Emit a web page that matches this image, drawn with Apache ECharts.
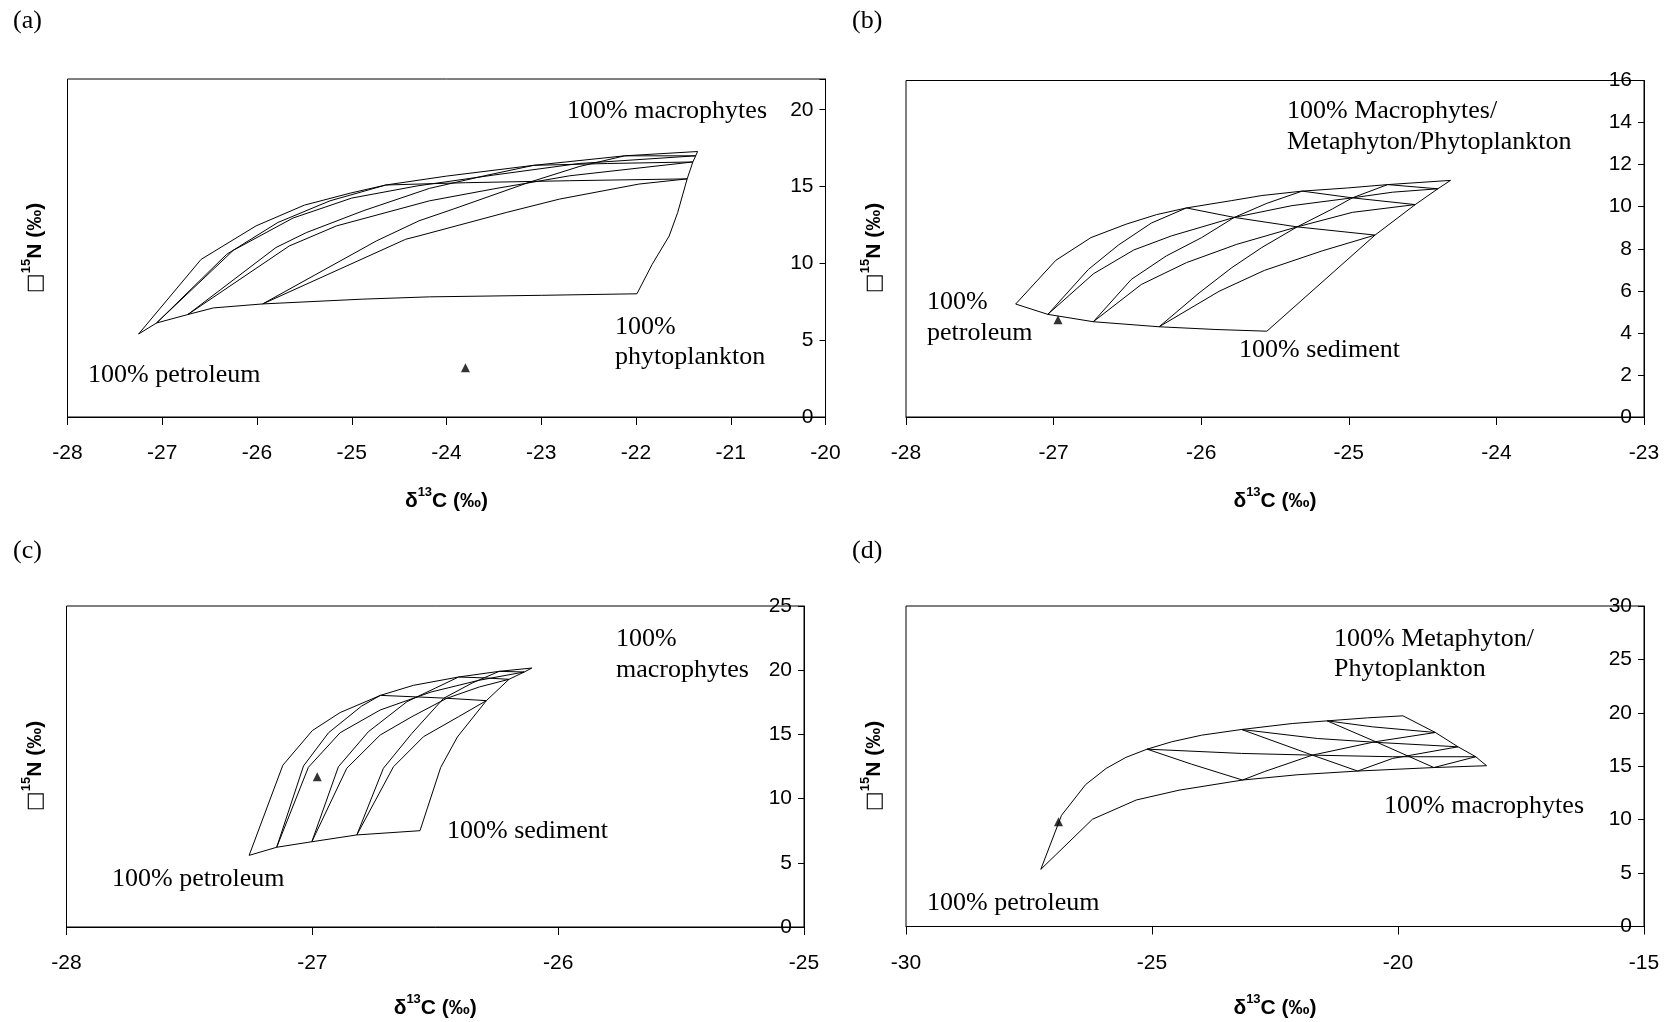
<!DOCTYPE html>
<html><head><meta charset="utf-8">
<script src="https://cdn.jsdelivr.net/npm/echarts@6/dist/echarts.min.js"></script>
<style>html,body{margin:0;padding:0;background:#fff}#c{width:1677px;height:1022px}</style>
</head><body><div id="c"></div>
<script>
// ---------- Panel (a) ----------
const aTop = [[-27.25,5.40],[-26.59,10.26],[-26.01,12.44],[-25.50,13.79],[-25.01,14.58],[-24.64,15.10],[-24.00,15.68],[-23.08,16.38],[-22.12,17.00],[-21.35,17.28]];
const aBottom = [[-27.25,5.40],[-27.06,6.12],[-26.73,6.67],[-26.46,7.10],[-25.94,7.36],[-24.89,7.67],[-24.18,7.82],[-23.00,7.92],[-21.99,8.02]];
const aRight = [[-21.99,8.02],[-21.83,9.93],[-21.65,11.78],[-21.56,13.31],[-21.46,15.50],[-21.40,16.60],[-21.37,17.00],[-21.35,17.28]];
const aMix1 = [[-27.06,6.12],[-26.32,10.59],[-25.78,12.66],[-25.23,14.07],[-24.64,15.10]];
const aMix2 = [[-27.06,6.12],[-26.25,10.85],[-25.62,12.95],[-25.00,14.25],[-24.30,15.05],[-23.50,15.75],[-22.60,16.50],[-21.37,17.00]];
const aMix3 = [[-26.73,6.67],[-25.80,11.03],[-25.48,12.00],[-24.88,13.42],[-24.18,14.88],[-23.60,15.70],[-23.08,16.38]];
const aMix4 = [[-26.73,6.67],[-25.66,11.13],[-25.16,12.44],[-24.18,14.07],[-23.50,14.85],[-22.70,15.70],[-21.40,16.60]];
const aMix5 = [[-25.94,7.36],[-24.74,11.46],[-24.29,12.77],[-23.93,13.53],[-23.13,15.27],[-22.60,16.30],[-22.12,17.00]];
const aMix6 = [[-25.94,7.36],[-24.43,11.57],[-24.29,11.79],[-23.37,13.31],[-22.81,14.18],[-21.97,15.16],[-21.46,15.50]];
const aMix7 = [[-24.64,15.10],[-23.80,15.25],[-22.70,15.38],[-21.46,15.50]];
const aMix8 = [[-23.08,16.38],[-22.30,16.50],[-21.40,16.60]];
const aMix9 = [[-22.12,17.00],[-21.37,17.00]];
const aSample = [[-23.8,3.2]];

// ---------- Panel (b) ----------
const bTop = [[-27.257,5.37],[-26.985,7.45],[-26.747,8.53],[-26.508,9.17],[-26.304,9.62],[-26.10,9.94],[-25.793,10.29],[-25.589,10.53],[-25.316,10.74],[-25.01,10.89],[-24.737,11.05],[-24.311,11.25]];
const bBottom = [[-27.257,5.37],[-27.039,4.88],[-26.731,4.53],[-26.285,4.29],[-25.90,4.16],[-25.555,4.08]];
const bRight = [[-25.555,4.08],[-24.822,8.65],[-24.55,10.10],[-24.397,10.85],[-24.311,11.25]];
const bMix1 = [[-27.039,4.88],[-26.764,7.02],[-26.56,8.18],[-26.338,9.22],[-26.10,9.94]];
const bMix2 = [[-27.039,4.88],[-26.73,6.81],[-26.457,7.94],[-26.202,8.61],[-25.776,9.49],[-25.385,10.05],[-24.976,10.42],[-24.703,10.69],[-24.397,10.85]];
const bMix3 = [[-26.731,4.53],[-26.474,6.54],[-26.236,7.66],[-25.997,8.53],[-25.776,9.49],[-25.555,10.16],[-25.316,10.74]];
const bMix4 = [[-26.731,4.53],[-26.406,6.30],[-26.10,7.34],[-25.759,8.21],[-25.35,9.04],[-24.976,9.73],[-24.55,10.10]];
const bMix5 = [[-26.285,4.29],[-26.014,5.90],[-25.793,7.10],[-25.589,8.06],[-25.35,9.04],[-25.112,9.89],[-24.976,10.42],[-24.737,11.05]];
const bMix6 = [[-26.285,4.29],[-25.878,5.98],[-25.572,6.97],[-25.18,7.90],[-24.822,8.65]];
const bMix7 = [[-26.10,9.94],[-25.776,9.49],[-25.35,9.04],[-24.822,8.65]];
const bMix8 = [[-25.316,10.74],[-24.976,10.42],[-24.55,10.10]];
const bMix9 = [[-24.737,11.05],[-24.397,10.85]];
const bSample = [[-26.97,4.62]];

// ---------- Panel (c) ----------
const cTop = [[-27.257,5.58],[-27.12,12.6],[-27.0,15.3],[-26.887,16.7],[-26.723,18.04],[-26.589,18.82],[-26.405,19.47],[-26.24,19.91],[-26.107,20.17]];
const cBottom = [[-27.257,5.58],[-27.145,6.21],[-27.002,6.64],[-26.819,7.17],[-26.562,7.50]];
const cRight = [[-26.562,7.50],[-26.478,12.42],[-26.41,14.8],[-26.292,17.63],[-26.20,19.29],[-26.138,19.86],[-26.107,20.17]];
const cMix1 = [[-27.145,6.21],[-27.036,12.54],[-26.934,15.13],[-26.80,17.2],[-26.723,18.04]];
const cMix2 = [[-27.145,6.21],[-27.016,12.44],[-26.887,15.13],[-26.724,16.90],[-26.517,18.30],[-26.323,19.21],[-26.138,19.86]];
const cMix3 = [[-27.002,6.64],[-26.894,12.48],[-26.772,15.21],[-26.615,17.55],[-26.50,18.6],[-26.405,19.47]];
const cMix4 = [[-27.002,6.64],[-26.86,12.36],[-26.724,14.95],[-26.595,16.38],[-26.453,17.81],[-26.32,18.7],[-26.20,19.29]];
const cMix5 = [[-26.819,7.17],[-26.711,12.36],[-26.595,15.08],[-26.466,17.81],[-26.35,19.0],[-26.24,19.91]];
const cMix6 = [[-26.819,7.17],[-26.67,12.48],[-26.548,14.82],[-26.405,16.38],[-26.292,17.63]];
const cMix7 = [[-26.723,18.04],[-26.466,17.83],[-26.292,17.63]];
const cMix8 = [[-26.405,19.47],[-26.30,19.40],[-26.20,19.29]];
const cMix9 = [[-26.24,19.91],[-26.138,19.86]];
const cSample = [[-26.98,11.7]];

// ---------- Panel (d) ----------
const dUpper = [[-27.26,5.35],[-26.84,10.4],[-26.35,13.28],[-25.93,14.80],[-25.53,15.83],[-25.10,16.60],[-24.60,17.29],[-23.99,17.91],[-23.18,18.44],[-22.15,19.00],[-21.44,19.25],[-20.62,19.53],[-19.90,19.72]];
const dLower = [[-27.26,5.35],[-26.21,10.04],[-25.32,11.84],[-24.45,12.76],[-23.16,13.71],[-22.05,14.20],[-20.82,14.55],[-19.27,14.88],[-18.20,15.05]];
const dRight = [[-19.90,19.72],[-19.24,18.16],[-18.78,16.82],[-18.42,15.89],[-18.20,15.05]];
const dMix1 = [[-25.10,16.60],[-24.20,15.20],[-23.16,13.71]];
const dMix2 = [[-25.10,16.60],[-23.18,16.20],[-21.74,16.04],[-20.11,15.89],[-18.42,15.89]];
const dMix3 = [[-23.18,18.44],[-21.74,16.04],[-20.82,14.55]];
const dMix4 = [[-23.18,18.44],[-21.64,17.60],[-20.42,17.23],[-18.78,16.82]];
const dMix5 = [[-21.44,19.25],[-20.42,17.23],[-19.27,14.88]];
const dMix6 = [[-21.44,19.25],[-20.52,18.69],[-19.24,18.16]];
const dMix7 = [[-23.16,13.71],[-22.72,14.49],[-21.74,16.04],[-20.47,17.29],[-19.24,18.16]];
const dMix8 = [[-20.82,14.55],[-20.11,15.73],[-18.78,16.82]];
const dMix9 = [[-19.27,14.88],[-18.42,15.89]];
const dSample = [[-26.9,9.8]];

// ---------- Axes ----------
const xMin = [-28, -28, -28, -30];
const xMax = [-20, -23, -25, -15];
const xStep = [1, 1, 1, 5];
const yMax = [22, 16, 25, 30];
const yStep = [5, 2, 5, 5];

// ---------- Texts ----------
const panelLetters = ['(a)', '(b)', '(c)', '(d)'];
const xTitle = '{d|δ}{s|13}{d|C (‰)}';
const yTitle = '{b|□}{s|15}{n|N (‰)}';
const labelsA = ['100% macrophytes', '100%', 'phytoplankton', '100% petroleum'];
const labelsB = ['100% Macrophytes/', 'Metaphyton/Phytoplankton', '100%', 'petroleum', '100% sediment'];
const labelsC = ['100%', 'macrophytes', '100% sediment', '100% petroleum'];
const labelsD = ['100% Metaphyton/', 'Phytoplankton', '100% macrophytes', '100% petroleum'];

const panels = [
  [aTop, aBottom, aRight, aMix1, aMix2, aMix3, aMix4, aMix5, aMix6, aMix7, aMix8, aMix9],
  [bTop, bBottom, bRight, bMix1, bMix2, bMix3, bMix4, bMix5, bMix6, bMix7, bMix8, bMix9],
  [cTop, cBottom, cRight, cMix1, cMix2, cMix3, cMix4, cMix5, cMix6, cMix7, cMix8, cMix9],
  [dUpper, dLower, dRight, dMix1, dMix2, dMix3, dMix4, dMix5, dMix6, dMix7, dMix8, dMix9]
];
const samples = [aSample, bSample, cSample, dSample];

const grids = [
  {left: 67.5, top: 79, width: 758, height: 338},
  {left: 906, top: 80.5, width: 738, height: 336.5},
  {left: 66.5, top: 606, width: 737.5, height: 321},
  {left: 906, top: 606, width: 738, height: 320.5}
].map(g => Object.assign(g, {show: true, borderColor: '#000', borderWidth: 1, backgroundColor: '#fff', containLabel: false, outerBoundsMode: 'none'}));
const nameGaps = [69, 69, 66, 66];

const SANS = 'Liberation Sans';
const SERIF = 'Liberation Serif';

const xAxes = grids.map((g, i) => ({
  type: 'value', gridIndex: i, min: xMin[i], max: xMax[i], interval: xStep[i], position: 'bottom',
  axisLine: {show: true, onZero: false, lineStyle: {color: '#000', width: 1}},
  axisTick: {show: true, length: 8, lineStyle: {color: '#000', width: 1}},
  axisLabel: {color: '#000', fontFamily: SANS, fontSize: 21, margin: 26, showMinLabel: true, showMaxLabel: true},
  splitLine: {show: false},
  name: xTitle, nameLocation: 'middle', nameGap: nameGaps[i],
  nameTextStyle: {
    color: '#000',
    rich: {
      d: {fontFamily: SANS, fontWeight: 'bold', fontSize: 21, color: '#000', lineHeight: 26, verticalAlign: 'bottom'},
      s: {fontFamily: SANS, fontWeight: 'bold', fontSize: 13, color: '#000', lineHeight: 26, verticalAlign: 'top'}
    }
  }
}));

const yAxes = grids.map((g, i) => ({
  type: 'value', gridIndex: i, min: 0, max: yMax[i], interval: yStep[i], position: 'right',
  axisLine: {show: true, onZero: false, lineStyle: {color: '#000', width: 1}},
  axisTick: {show: true, inside: true, length: 6, lineStyle: {color: '#000', width: 1}},
  axisLabel: {inside: true, margin: 12, color: '#000', fontFamily: SANS, fontSize: 21,
    formatter: v => (Math.abs(v % yStep[i]) < 1e-9 ? String(v) : '')},
  splitLine: {show: false}
}));

const series = [];
panels.forEach((list, gi) => {
  list.forEach(d => series.push({
    type: 'line', xAxisIndex: gi, yAxisIndex: gi, data: d, symbol: 'none', showSymbol: false,
    lineStyle: {color: '#000', width: 1}, silent: true, animation: false, z: 3
  }));
});
samples.forEach((d, gi) => series.push({
  type: 'scatter', xAxisIndex: gi, yAxisIndex: gi, data: d, symbol: 'triangle', symbolSize: [9, 9],
  itemStyle: {color: '#000'}, silent: true, animation: false, z: 5
}));

function label(x, y, text, size) {
  return {type: 'text', x: x, y: y, z: 20,
    style: {text: text, fill: '#000', fontFamily: SERIF, fontSize: size || 26, align: 'left', verticalAlign: 'middle'}};
}
function yTitleAt(x, y) {
  return {type: 'text', x: x, y: y, rotation: Math.PI / 2, z: 20,
    style: {text: yTitle, align: 'center', verticalAlign: 'middle', fill: '#000',
      rich: {
        b: {fontFamily: 'DejaVu Sans', fontSize: 21, color: '#000', lineHeight: 26, verticalAlign: 'bottom'},
        s: {fontFamily: SANS, fontWeight: 'bold', fontSize: 13, color: '#000', lineHeight: 26, verticalAlign: 'top'},
        n: {fontFamily: SANS, fontWeight: 'bold', fontSize: 21, color: '#000', lineHeight: 26, verticalAlign: 'bottom'}
      }}};
}

const graphic = [
  label(13, 21, panelLetters[0]), label(852, 21, panelLetters[1]),
  label(13, 551, panelLetters[2]), label(852, 551, panelLetters[3]),
  yTitleAt(33, 248), yTitleAt(872, 248), yTitleAt(33, 766), yTitleAt(872, 766),
  // (a)
  label(567, 111, labelsA[0]), label(615, 327, labelsA[1]), label(615, 357, labelsA[2]), label(88, 375, labelsA[3]),
  // (b)
  label(1287, 111, labelsB[0]), label(1287, 142, labelsB[1]), label(927, 302, labelsB[2]), label(927, 333, labelsB[3]), label(1239, 350, labelsB[4]),
  // (c)
  label(616, 639, labelsC[0]), label(616, 670, labelsC[1]), label(447, 831, labelsC[2]), label(112, 879, labelsC[3]),
  // (d)
  label(1334, 639, labelsD[0]), label(1334, 669, labelsD[1]), label(1384, 806, labelsD[2]), label(927, 903, labelsD[3])
];

const chart = echarts.init(document.getElementById('c'), null, {renderer: 'canvas'});
chart.setOption({
  backgroundColor: '#fff',
  animation: false,
  grid: grids,
  xAxis: xAxes,
  yAxis: yAxes,
  series: series,
  graphic: graphic
});
</script>
</body></html>
